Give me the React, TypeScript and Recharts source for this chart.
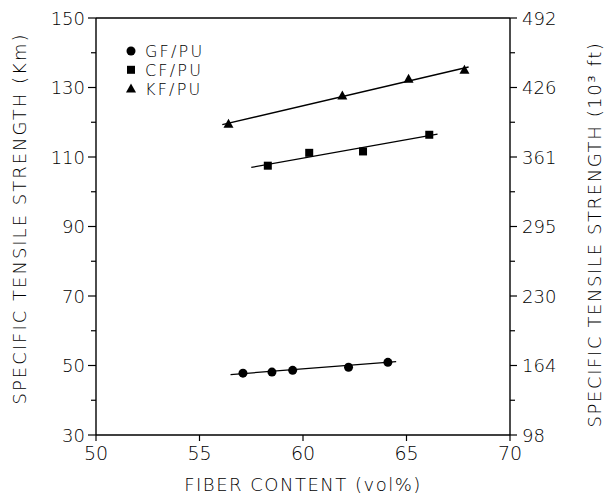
import React from "react";
import { ScatterChart, Scatter, XAxis, YAxis, ReferenceLine } from "recharts";

// fibre content (vol%) vs specific tensile strength (km)
const gfX = [57.1, 58.5, 59.5, 62.2, 64.1];
const gfY = [47.8, 48.1, 48.6, 49.5, 50.9];
const cfX = [58.3, 60.3, 62.9, 66.1];
const cfY = [107.5, 111.2, 111.6, 116.4];
const kfX = [56.4, 61.9, 65.1, 67.8];
const kfY = [119.6, 127.7, 132.5, 135.1];

// fitted lines, end points
const gfFitX = [56.5, 64.5];
const gfFitY = [47.4, 51.1];
const cfFitX = [57.5, 66.5];
const cfFitY = [107.0, 116.6];
const kfFitX = [56.1, 68.0];
const kfFitY = [119.3, 135.9];

const xTicks = [50, 55, 60, 65, 70];
const yTicks = [30, 40, 50, 60, 70, 80, 90, 100, 110, 120, 130, 140, 150];
const leftLabels = ["30", "50", "70", "90", "110", "130", "150"];
const rightLabels = ["98", "164", "230", "295", "361", "426", "492"];
const legendNames = ["GF/PU", "CF/PU", "KF/PU"];

const toPoints = (xs: number[], ys: number[]) => xs.map((x, i) => ({ x, y: ys[i] }));

const FONT = "'DejaVu Sans', sans-serif";
const INK = "#000";

const Circle = (p: any) => <circle cx={p.cx} cy={p.cy} r={4.5} fill={INK} />;
const Square = (p: any) => <rect x={p.cx - 4} y={p.cy - 4} width={8} height={8} fill={INK} />;
const Tri = (p: any) => (
  <path d={`M${p.cx},${p.cy - 5} L${p.cx + 5},${p.cy + 4} L${p.cx - 5},${p.cy + 4} Z`} fill={INK} />
);
const NoDot = () => <g />;

const LeftTick = ({ x, y, payload }: any) => {
  const major = (payload.value - 30) % 20 === 0;
  const idx = (payload.value - 30) / 20;
  return (
    <g>
      <line x1={x} x2={x - (major ? 8 : 5)} y1={y} y2={y} stroke={INK} strokeWidth={1.2} />
      {major && (
        <text x={x - 11} y={y + 6.5} textAnchor="end" fontSize={18} fontFamily={FONT} fontWeight={200} fill={INK}>
          {leftLabels[idx]}
        </text>
      )}
    </g>
  );
};

const RightTick = ({ x, y, payload }: any) => {
  const major = (payload.value - 30) % 20 === 0;
  const idx = (payload.value - 30) / 20;
  return (
    <g>
      <line x1={x} x2={x + (major ? 7 : 5)} y1={y} y2={y} stroke={INK} strokeWidth={1.2} />
      {major && (
        <text x={x + 12} y={y + 6.5} textAnchor="start" fontSize={18} fontFamily={FONT} fontWeight={200} fill={INK}>
          {rightLabels[idx]}
        </text>
      )}
    </g>
  );
};

const BottomTick = ({ x, y, payload }: any) => (
  <g>
    <line x1={x} x2={x} y1={y} y2={y + 6} stroke={INK} strokeWidth={1.2} />
    <text x={x} y={y + 25} textAnchor="middle" fontSize={19} fontFamily={FONT} fontWeight={200} fill={INK}>
      {payload.value}
    </text>
  </g>
);

const legendShapes = [Circle, Square, Tri];

// legend sits inside the plot, top left
const LegendBox = () => (
  <svg width={100} height={64} style={{ position: "absolute", left: 125, top: 44, overflow: "visible" }}>
    {legendNames.map((n, i) => {
      const Shape = legendShapes[i];
      const cy = 7 + i * 18.8;
      return (
        <g key={n}>
          <Shape cx={6} cy={cy} />
          <text x={20} y={cy + 6} fontSize={16} fontFamily={FONT} fontWeight={200} letterSpacing={2.2} fill={INK}>
            {n}
          </text>
        </g>
      );
    })}
  </svg>
);

export default function App() {
  return (
    <div style={{ position: "absolute", left: 0, top: 0, width: 611, height: 494, background: "#fff" }}>
      <ScatterChart width={611} height={494} margin={{ top: 18, right: 0, bottom: 0, left: 0 }}>
        <XAxis
          type="number"
          dataKey="x"
          domain={[50, 70]}
          ticks={xTicks}
          height={59}
          tickSize={0}
          tickMargin={0}
          tickLine={false}
          axisLine={{ stroke: INK, strokeWidth: 1.4 }}
          tick={<BottomTick />}
          interval={0}
          allowDataOverflow
          label={{
            value: "FIBER CONTENT (vol%)",
            position: "insideBottom",
            offset: 3,
            style: { fontSize: 18, fontFamily: FONT, fontWeight: 200, letterSpacing: 1.5, fill: INK },
          }}
        />
        <YAxis
          yAxisId="left"
          type="number"
          dataKey="y"
          domain={[30, 150]}
          ticks={yTicks}
          width={96}
          tickSize={0}
          tickMargin={0}
          tickLine={false}
          axisLine={{ stroke: INK, strokeWidth: 1.4 }}
          tick={<LeftTick />}
          interval={0}
          allowDataOverflow
          label={{
            value: "SPECIFIC TENSILE STRENGTH (Km)",
            angle: -90,
            position: "insideLeft",
            offset: 0,
            dx: 20,
            dy: -8,
            style: { textAnchor: "middle", fontSize: 18, fontFamily: FONT, fontWeight: 200, letterSpacing: 2, fill: INK },
          }}
        />
        <YAxis
          yAxisId="right"
          orientation="right"
          type="number"
          domain={[30, 150]}
          ticks={yTicks}
          width={101}
          tickSize={0}
          tickMargin={0}
          tickLine={false}
          axisLine={{ stroke: INK, strokeWidth: 1.4 }}
          tick={<RightTick />}
          interval={0}
          allowDataOverflow
          label={{
            value: "SPECIFIC TENSILE STRENGTH (10³ ft)",
            angle: -90,
            position: "insideRight",
            offset: 0,
            dx: -16,
            dy: 8,
            style: { textAnchor: "middle", fontSize: 18, fontFamily: FONT, fontWeight: 200, letterSpacing: 1.6, fill: INK },
          }}
        />
        <ReferenceLine yAxisId="left" y={150} stroke={INK} strokeWidth={1.4} />
        <Scatter yAxisId="left" data={toPoints(gfFitX, gfFitY)} line={{ stroke: INK, strokeWidth: 1.3 }} shape={<NoDot />} legendType="none" isAnimationActive={false} />
        <Scatter yAxisId="left" data={toPoints(cfFitX, cfFitY)} line={{ stroke: INK, strokeWidth: 1.3 }} shape={<NoDot />} legendType="none" isAnimationActive={false} />
        <Scatter yAxisId="left" data={toPoints(kfFitX, kfFitY)} line={{ stroke: INK, strokeWidth: 1.3 }} shape={<NoDot />} legendType="none" isAnimationActive={false} />
        <Scatter yAxisId="left" name="GF/PU" data={toPoints(gfX, gfY)} shape={<Circle />} isAnimationActive={false} />
        <Scatter yAxisId="left" name="CF/PU" data={toPoints(cfX, cfY)} shape={<Square />} isAnimationActive={false} />
        <Scatter yAxisId="left" name="KF/PU" data={toPoints(kfX, kfY)} shape={<Tri />} isAnimationActive={false} />
      </ScatterChart>
      <LegendBox />
    </div>
  );
}
